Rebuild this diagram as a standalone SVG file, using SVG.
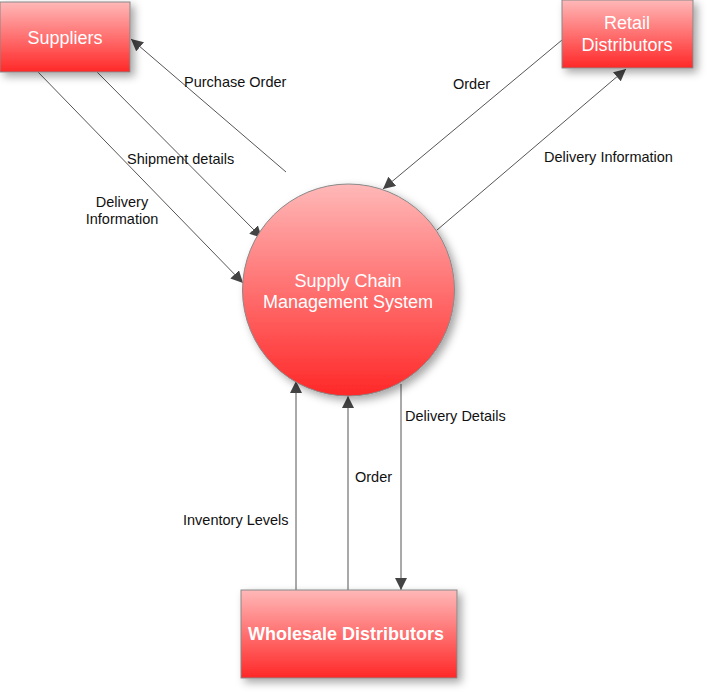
<svg xmlns="http://www.w3.org/2000/svg" width="709" height="696" viewBox="0 0 709 696">
<defs>
<linearGradient id="g" x1="0" y1="0" x2="0" y2="1"><stop offset="0" stop-color="#ffb8b8"/><stop offset="1" stop-color="#ff2828"/></linearGradient>
<filter id="sh" x="-20%" y="-20%" width="150%" height="150%"><feDropShadow dx="4" dy="4" stdDeviation="4" flood-color="#000" flood-opacity="0.35"/></filter>
<marker id="a" viewBox="0 0 10 10" refX="10" refY="5" markerWidth="12" markerHeight="12" markerUnits="userSpaceOnUse" orient="auto"><path d="M0,0L10,5L0,10z" fill="#444"/></marker>
<style>
.n{fill:url(#g);stroke:#888;stroke-width:1;filter:url(#sh)}
.t{font-family:"Liberation Sans",Arial,sans-serif;fill:#fff;text-anchor:middle;font-size:18px}
.l{font-family:"Liberation Sans",Arial,sans-serif;fill:#111;font-size:14.5px}
.c{stroke:#555;stroke-width:1;fill:none;marker-end:url(#a)}
</style>
</defs>
<g id="connectors">
<line class="c" x1="286" y1="172" x2="131" y2="39"/>
<line class="c" x1="97" y1="72" x2="262" y2="238"/>
<line class="c" x1="38" y1="72" x2="243" y2="283"/>
<line class="c" x1="562" y1="40" x2="383" y2="189"/>
<line class="c" x1="437" y1="230" x2="626" y2="69"/>
<line class="c" x1="296" y1="590" x2="296" y2="381"/>
<line class="c" x1="348" y1="590" x2="348" y2="396"/>
<line class="c" x1="401" y1="384" x2="401" y2="590"/>
<text class="l" x="184" y="87">Purchase Order</text>
<text class="l" x="127" y="164">Shipment details</text>
<text class="l" x="122" y="207" text-anchor="middle">Delivery</text>
<text class="l" x="122" y="224" text-anchor="middle">Information</text>
<text class="l" x="453" y="89">Order</text>
<text class="l" x="544" y="162">Delivery Information</text>
<text class="l" x="405" y="421">Delivery Details</text>
<text class="l" x="355" y="482">Order</text>
<text class="l" x="183" y="525">Inventory Levels</text>
</g>
<g id="suppliers"><rect class="n" x="0" y="2" width="130" height="70"/><text class="t" x="65" y="44">Suppliers</text></g>
<g id="retail"><rect class="n" x="562" y="0" width="131" height="68"/><text class="t" x="627" y="29">Retail</text><text class="t" x="627" y="51">Distributors</text></g>
<g id="scm"><circle class="n" cx="348.5" cy="290" r="106"/><text class="t" x="348" y="287">Supply Chain</text><text class="t" x="348" y="308">Management System</text></g>
<g id="wholesale"><rect class="n" x="241" y="590" width="216" height="88"/><text class="t" x="346" y="640" font-weight="bold">Wholesale Distributors</text></g>
</svg>
